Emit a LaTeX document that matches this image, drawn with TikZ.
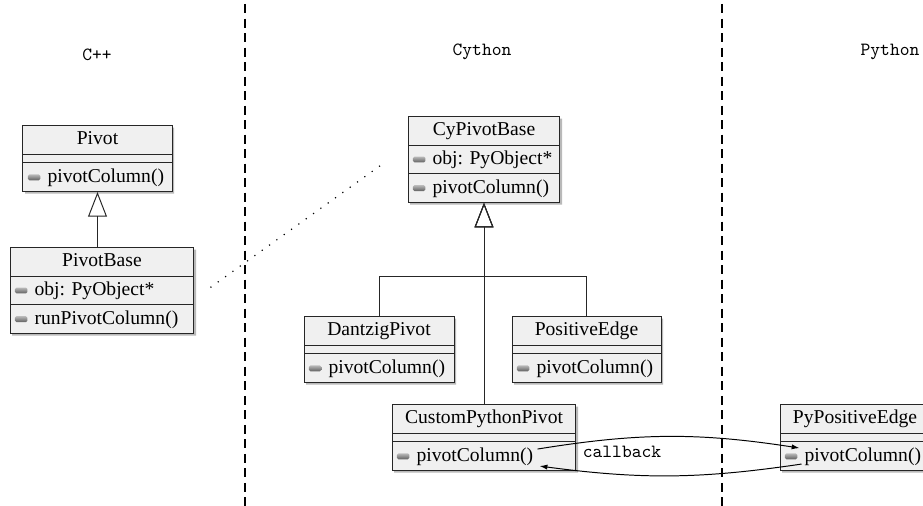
\documentclass[tikz,border=0pt]{standalone}
\usepackage{fontspec}
\setmainfont{Liberation Serif}
\usetikzlibrary{shapes.multipart, shadows, arrows.meta}

% small visibility mark and row helpers
\newcommand{\umlicon}{\tikz[baseline=0pt]\shade[top color=gray!55, bottom color=gray!75!black, rounded corners=0.8pt] (0pt,1pt) rectangle (6.4pt,4pt);}
\newcommand{\umlstrut}{\vrule height 7.6pt depth 2.5pt width 0pt}
\newcommand{\umlname}[1]{\hbox to\hsize{\hfil#1\umlstrut\hfil}}
\newcommand{\umlrow}[1]{\hbox to\hsize{\frenchspacing\umlicon\hspace{3.6pt}#1\umlstrut\hss}}

\tikzset{
  umlclass/.style={rectangle split, rectangle split parts=3, draw=black!85, fill=gray!12,
    line width=0.5pt, inner xsep=2.5pt, inner ysep=2pt, anchor=north,
    drop shadow={shadow xshift=1.1pt, shadow yshift=-1.1pt, fill=black!55}},
  inherit/.style={-{Triangle[open, length=12.5pt, width=9.6pt]}, black!85, line width=0.5pt},
  callback/.style={-{Latex[length=4pt, width=2.6pt]}, line width=0.5pt},
  border/.style={line width=1pt, dash pattern=on 4.6pt off 2.8pt},
  lang/.style={font=\ttfamily\fontsize{9.5}{11}\selectfont},
}

\begin{document}
\begin{tikzpicture}[x=0.51pt, y=-0.51pt]
  \useasboundingbox (0,0) rectangle (923,506);

  % language borders
  \draw[border] (245,4) -- (245,506);
  \draw[border] (722,4) -- (722,506);
  \node[lang] (cpp) at (97,55) {C++};
  \node[lang] (cython) at (482,52) {Cython};
  \node[lang] (python) at (890,52) {Python};

  % C++ side
  \node[umlclass, text width=71pt] (pivot) at (97.5,125)
    {\umlname{Pivot} \nodepart{two} \nodepart{three} \umlrow{pivotColumn()}};
  \node[umlclass, text width=88.8pt] (pivotbase) at (102,247)
    {\umlname{PivotBase} \nodepart{two} \umlrow{obj: PyObject*} \nodepart{three} \umlrow{runPivotColumn()}};
  \draw[inherit] (pivotbase.north -| pivot.south) -- (pivot.south);

  % Cython side
  \node[umlclass, text width=72.5pt] (cypivot) at (484,116)
    {\umlname{CyPivotBase} \nodepart{two} \umlrow{obj: PyObject*} \nodepart{three} \umlrow{pivotColumn()}};
  \node[umlclass, text width=71.5pt] (dantzig) at (379,316)
    {\umlname{DantzigPivot} \nodepart{two} \nodepart{three} \umlrow{pivotColumn()}};
  \node[umlclass, text width=71pt] (positive) at (586.5,316)
    {\umlname{PositiveEdge} \nodepart{two} \nodepart{three} \umlrow{pivotColumn()}};
  \node[umlclass, text width=88.8pt] (custom) at (484,404)
    {\umlname{CustomPythonPivot} \nodepart{two} \nodepart{three} \umlrow{pivotColumn()}};
  \coordinate (fork) at (484,276);
  \draw[inherit] (dantzig.north) |- (fork) -- (cypivot.south);
  \draw[inherit] (positive.north) |- (fork) -- (cypivot.south);
  \draw[inherit] (custom.north) -- (cypivot.south);

  % Python side
  \node[umlclass, text width=71.5pt] (pypositive) at (855,404)
    {\umlname{PyPositiveEdge} \nodepart{two} \nodepart{three} \umlrow{pivotColumn()}};

  % link between PivotBase and CyPivotBase
  \draw[loosely dotted, line width=0.6pt] ([shift={(16,-3)}]pivotbase.east) -- ([shift={(-27,6)}]cypivot.west);

  % callback
  \coordinate (cbout) at ([shift={(146,-22)}]custom.south west);
  \coordinate (cbret) at ([shift={(148,-5)}]custom.south west);
  \coordinate (cbin) at ([shift={(20,-23)}]pypositive.south west);
  \coordinate (cbback) at ([shift={(22,-7)}]pypositive.south west);
  \draw[callback] (cbout) to[bend left=9] (cbin);
  \draw[callback] (cbback) to[bend left=8] (cbret);
  \node[lang] (cblabel) at (622,452) {callback};
\end{tikzpicture}
\end{document}
